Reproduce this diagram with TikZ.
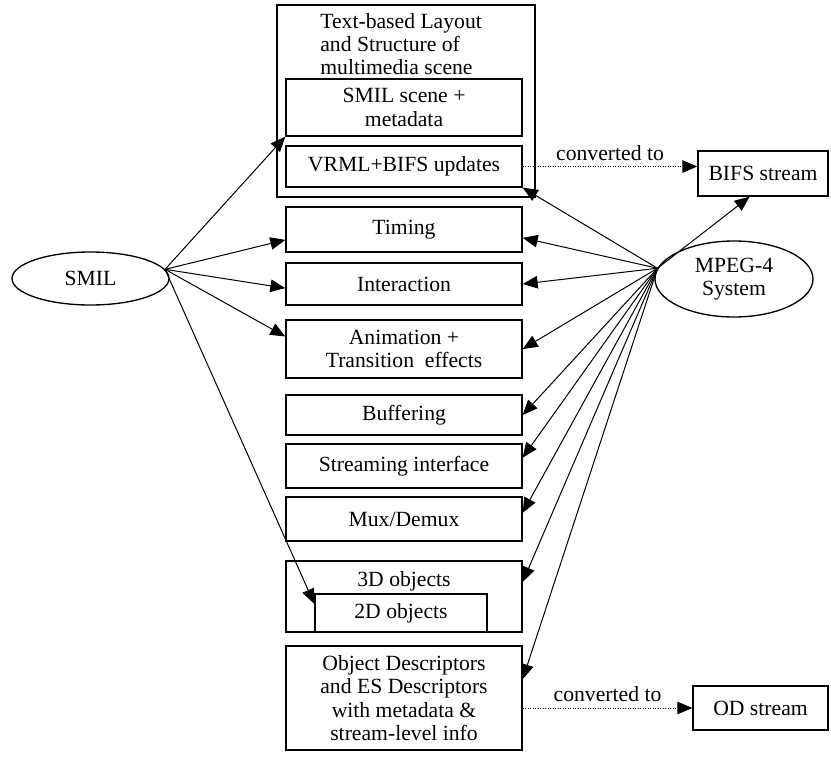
\documentclass[tikz,border=0pt]{standalone}
\usepackage{fontspec}
\setmainfont{Liberation Serif}
\usepackage{tikz}
\usetikzlibrary{arrows.meta,shapes.geometric}

\begin{document}
\begin{tikzpicture}[
    x=0.6pt, y=-0.6pt,
    font=\fontsize{13}{14}\selectfont,
    >={Triangle[length=9pt,width=7.5pt]},
    box/.style={draw, line width=0.8pt, minimum width=141.6pt, align=center, inner sep=2pt},
    oval/.style={draw, ellipse, line width=0.8pt, align=center, inner sep=1pt},
    feed/.style={->, line width=0.6pt},
    conv/.style={->, line width=0.5pt, densely dotted}
]
\useasboundingbox (0,0) rectangle (831,756);

\node[draw, line width=0.8pt, minimum width=154.8pt, minimum height=115.2pt] (layout) at (406,101) {};
\node[anchor=west, align=left, inner sep=0pt] (layouttitle) at (320,44) {Text-based Layout\\and Structure of\\multimedia scene};
\node[box, minimum height=34.2pt] (scene) at (404,107.5) {SMIL scene +\\metadata};
\node[box, minimum height=24.6pt] (vrml) at (404,166.5) {VRML+BIFS updates};
\node[box, minimum height=27pt] (timing) at (404,229.5) {Timing};
\node[box, minimum height=25.2pt] (interaction) at (404,284) {Interaction};
\node[box, minimum height=34.8pt] (animation) at (404,349) {Animation +\\Transition\ \ effects};
\node[box, minimum height=24pt] (buffering) at (404,415) {Buffering};
\node[box, minimum height=26.4pt] (streaming) at (404,466) {Streaming interface};
\node[box, minimum height=26.4pt] (mux) at (404,519) {Mux/Demux};
\node[box, minimum height=42.6pt] (threed) at (404,596.5) {};
\node (threedtext) at (404,581) {3D objects};
\node[box, minimum width=103.2pt, minimum height=22.8pt] (twod) at (401,613) {2D objects};
\node[box, minimum height=62.4pt] (od) at (404,698) {Object Descriptors\\and ES Descriptors\\with metadata \&\\stream-level info};

\node[box, minimum width=78pt, minimum height=27pt] (bifs) at (763,173.5) {BIFS stream};
\node[box, minimum width=81pt, minimum height=26.4pt] (odstream) at (760.5,708) {OD stream};

\node[oval, minimum width=94.2pt, minimum height=31.8pt] (smil) at (90.5,278.5) {SMIL};
\node[oval, minimum width=94.8pt, minimum height=45.6pt] (mpeg) at (734,279) {MPEG-4\\System};

\draw[feed] (smil.7) -- (scene.south west);
\draw[feed] (smil.7) -- (timing.185);
\draw[feed] (smil.7) -- (interaction.182);
\draw[feed] (smil.7) -- (animation.174);
\draw[feed] (smil.7) -- (twod.174);

\draw[feed] (mpeg.172) -- (vrml.south east);
\draw[feed] (mpeg.172) -- (timing.356);
\draw[feed] (mpeg.172) -- (interaction.east);
\draw[feed] (mpeg.172) -- (animation.east);
\draw[feed] (mpeg.172) -- (buffering.east);
\draw[feed] (mpeg.172) -- (streaming.4);
\draw[feed] (mpeg.172) -- (mux.3);
\draw[feed] (mpeg.172) -- (threed.7);
\draw[feed] (mpeg.172) -- (od.9);
\draw[feed] (mpeg.172) -- (bifs.240);

\draw[conv] (vrml.east) -- (vrml.east -| bifs.west) node[midway, above] {converted to};
\draw[conv] (odstream.west -| od.east) -- (odstream.west) node[midway, above] {converted to};
\end{tikzpicture}
\end{document}
